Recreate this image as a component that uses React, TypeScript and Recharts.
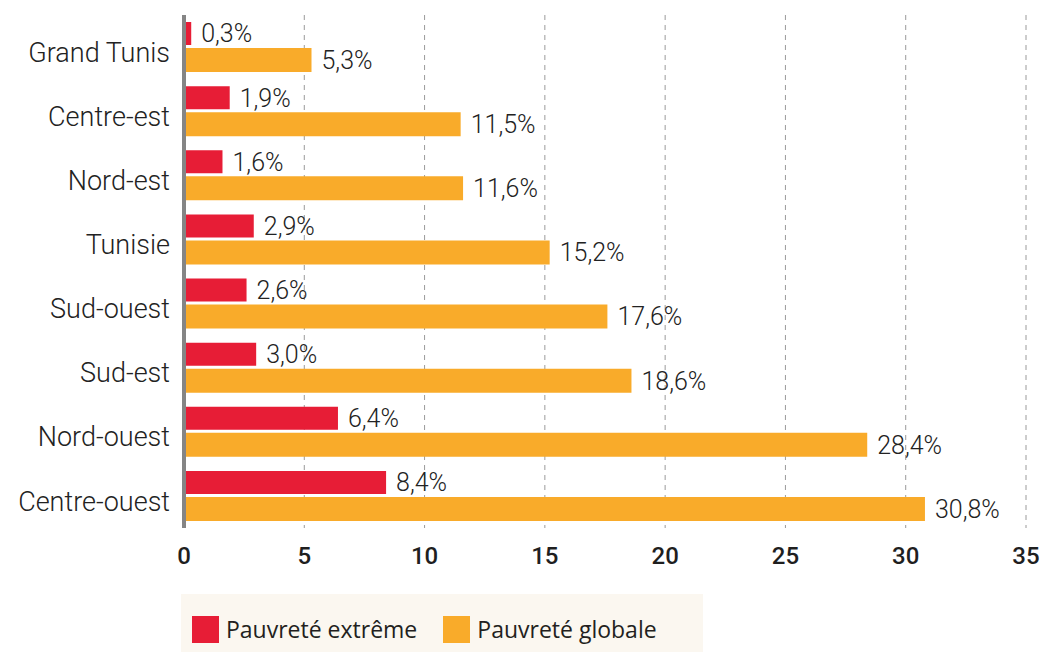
import React from 'react';
import { BarChart, Bar, XAxis, YAxis, CartesianGrid, LabelList, Legend } from 'recharts';

const regions = ['Grand Tunis', 'Centre-est', 'Nord-est', 'Tunisie', 'Sud-ouest', 'Sud-est', 'Nord-ouest', 'Centre-ouest'];
const extreme = [0.3, 1.9, 1.6, 2.9, 2.6, 3.0, 6.4, 8.4];
const globale = [5.3, 11.5, 11.6, 15.2, 17.6, 18.6, 28.4, 30.8];
const xTicks = [0, 5, 10, 15, 20, 25, 30, 35];

const RED = '#E71D36';
const ORANGE = '#F9AB2A';

const data = regions.map((name, i) => ({ name, extreme: extreme[i], globale: globale[i] }));

const fmt = (v: any) => Number(v).toFixed(1).replace('.', ',') + '%';

const LegendContent = (props: any) => {
  const items = props.payload || [];
  return (
    <div
      style={{
        width: 522,
        height: 58,
        background: '#FBF7F0',
        display: 'flex',
        alignItems: 'center',
        paddingLeft: 11,
        boxSizing: 'border-box',
        fontFamily: '"Open Sans", sans-serif',
        fontSize: 23,
        color: '#231f20',
      }}
    >
      {items.map((it: any, i: number) => (
        <div key={i} style={{ display: 'flex', alignItems: 'center', marginRight: i === 0 ? 26 : 0, marginTop: 12 }}>
          <div style={{ width: 27, height: 27, background: it.color, marginRight: 7 }} />
          <span>{it.value}</span>
        </div>
      ))}
    </div>
  );
};

export default function App() {
  return (
    <div style={{ position: 'absolute', left: 0, top: 0, width: 1045, height: 652, background: '#fff' }}>
      <BarChart
        width={1045}
        height={652}
        data={data}
        layout="vertical"
        margin={{ top: 15, right: 19, bottom: 0, left: 0 }}
        barGap={3}
      >
        <CartesianGrid horizontal={false} vertical stroke="#9a9a9a" strokeDasharray="5 5" />
        <XAxis
          type="number"
          domain={[0, 35]}
          ticks={xTicks}
          interval={0}
          height={66}
          axisLine={false}
          tickLine={false}
          tickSize={0}
          tickMargin={19}
          tick={{ fontFamily: 'Roboto, sans-serif', fontSize: 24, fontWeight: 500, fill: '#1f1f1f' }}
        />
        <YAxis
          type="category"
          dataKey="name"
          width={184}
          axisLine={{ stroke: '#858585', strokeWidth: 4 }}
          tickLine={false}
          tickSize={0}
          tickMargin={14}
          tick={{ fontFamily: 'Roboto, sans-serif', fontSize: 27, fontWeight: 300, fill: '#222', dy: 5 }}
        />
        <Legend
          verticalAlign="bottom"
          content={<LegendContent />}
          wrapperStyle={{ left: 181, bottom: 0, width: 522, height: 58 }}
        />
        <Bar dataKey="extreme" name="Pauvreté extrême" fill={RED} barSize={23} isAnimationActive={false}>
          <LabelList
            dataKey="extreme"
            position="right"
            offset={10}
            formatter={fmt}
            style={{ fontFamily: 'Roboto, sans-serif', fontSize: 25, fontWeight: 300, fill: '#222' }}
          />
        </Bar>
        <Bar dataKey="globale" name="Pauvreté globale" fill={ORANGE} barSize={24} isAnimationActive={false}>
          <LabelList
            dataKey="globale"
            position="right"
            offset={10}
            formatter={fmt}
            style={{ fontFamily: 'Roboto, sans-serif', fontSize: 25, fontWeight: 300, fill: '#222' }}
          />
        </Bar>
      </BarChart>
    </div>
  );
}
